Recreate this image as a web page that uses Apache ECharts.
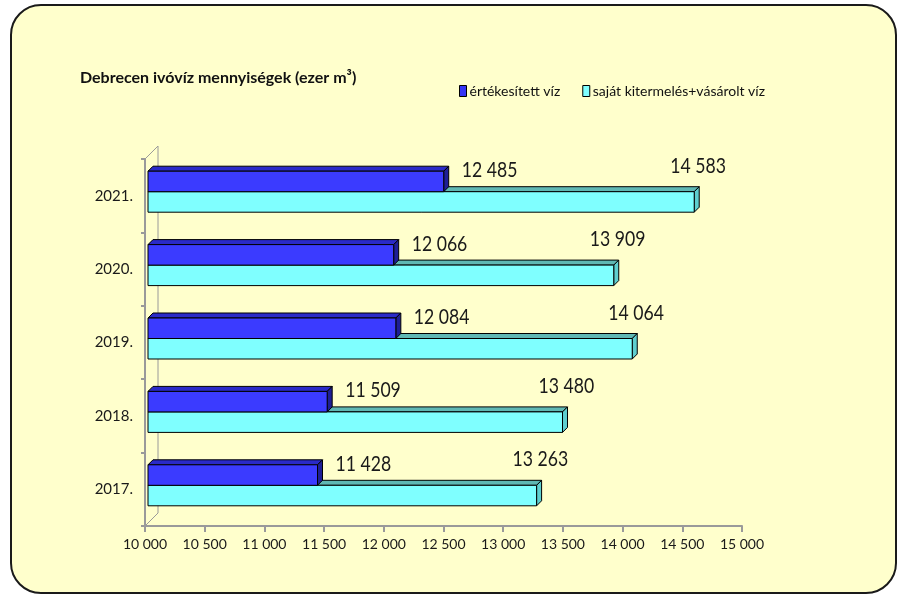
<!DOCTYPE html>
<html>
<head>
<meta charset="utf-8">
<script src="https://cdn.jsdelivr.net/npm/echarts@6/dist/echarts.min.js"></script>
<style>
  html, body { margin: 0; padding: 0; background: #ffffff; }
  #chart { width: 901px; height: 594px; }
</style>
</head>
<body>
<div id="chart"></div>
<script>
const categories = ['2017.', '2018.', '2019.', '2020.', '2021.']
const soldWater = [11428, 11509, 12084, 12066, 12485]
const producedWater = [13263, 13480, 14064, 13909, 14583]
const axisMin = 10000
const axisMax = 15000
const axisStep = 500

const SOLD_NAME = 'értékesített víz'
const PRODUCED_NAME = 'saját kitermelés+vásárolt víz'
const FONT = 'Lato, "Open Sans", sans-serif'

const GRID = { left: 145, right: 159, top: 159, bottom: 68 }
const DEPTH = 5
const BAR_H = 20.5

function fmt(v) {
  return String(v).replace(/\B(?=(\d{3})+(?!\d))/g, ' ')
}

// 3D-ish bar: front face, top face and right side face
function makeBar(api, upper, colors, labelDx, labelDy) {
  const cat = api.value(0)
  const val = api.value(1)
  const endPt = api.coord([val, cat])
  const startPt = api.coord([axisMin, cat])
  const c = endPt[1] - 4
  const x0 = startPt[0] + 3
  const x1 = endPt[0] + 2
  const y = upper ? c - BAR_H : c
  const h = BAR_H
  const d = DEPTH
  const line = { stroke: '#000', lineWidth: 1 }
  return {
    type: 'group',
    children: [
      {
        type: 'polygon',
        shape: { points: [[x0, y], [x0 + d, y - d], [x1 + d, y - d], [x1, y]] },
        style: Object.assign({ fill: colors.top }, line)
      },
      {
        type: 'polygon',
        shape: { points: [[x1, y], [x1 + d, y - d], [x1 + d, y + h - d], [x1, y + h]] },
        style: Object.assign({ fill: colors.side }, line)
      },
      {
        type: 'rect',
        shape: { x: x0, y: y, width: x1 - x0, height: h },
        style: Object.assign({ fill: colors.front }, line)
      },
      {
        // narrow the label a bit so it looks like the condensed original font
        type: 'text',
        z2: 10,
        x: x1 + labelDx,
        y: y + h / 2 + labelDy,
        scaleX: 0.84,
        style: {
          x: 0,
          y: 0,
          text: fmt(val),
          fill: '#1a1a1a',
          font: '21px ' + FONT,
          verticalAlign: 'middle',
          align: 'left'
        }
      }
    ]
  }
}

const chart = echarts.init(document.getElementById('chart'), null, { renderer: 'canvas' })

const pxLeft = GRID.left
const pxBottom = 594 - GRID.bottom
const pxTop = GRID.top
const wall = '#9a9a9a'

const option = {
  backgroundColor: '#ffffff',
  animation: false,
  graphic: [
    {
      type: 'rect',
      z: -10,
      shape: { x: 11, y: 5, width: 885, height: 588, r: 30 },
      style: { fill: '#FFFFCC', stroke: '#1a1a1a', lineWidth: 2 }
    },
    {
      type: 'polyline',
      z: -5,
      shape: { points: [[pxLeft, pxTop], [pxLeft + 13, pxTop - 13], [pxLeft + 13, pxBottom - 13], [pxLeft, pxBottom]] },
      style: { stroke: wall, lineWidth: 1, fill: null }
    },
    {
      type: 'text',
      left: 80,
      top: 70,
      style: {
        text: 'Debrecen ivóvíz mennyiségek (ezer m³)',
        font: 'bold 16px ' + FONT,
        fill: '#111'
      }
    }
  ],
  legend: {
    left: 454,
    top: 79,
    itemGap: 22,
    itemWidth: 7,
    itemHeight: 11,
    icon: 'rect',
    data: [
      { name: SOLD_NAME, itemStyle: { color: '#3535F5', borderColor: '#000', borderWidth: 1 } },
      { name: PRODUCED_NAME, itemStyle: { color: '#7FFFFF', borderColor: '#000', borderWidth: 1 } }
    ],
    textStyle: { fontFamily: FONT, fontSize: 14, color: '#111', padding: [0, 0, 0, -2] }
  },
  grid: { left: GRID.left, right: GRID.right, top: GRID.top, bottom: GRID.bottom, containLabel: false },
  xAxis: {
    type: 'value',
    min: axisMin,
    max: axisMax,
    interval: axisStep,
    axisLine: { show: true, lineStyle: { color: wall, width: 2 } },
    axisTick: { show: true, inside: false, length: 6, lineStyle: { color: wall, width: 2 } },
    splitLine: { show: false },
    axisLabel: {
      color: '#1a1a1a',
      fontFamily: FONT,
      fontSize: 14,
      margin: 11,
      formatter: fmt
    }
  },
  yAxis: {
    type: 'category',
    data: categories,
    axisLine: { show: true, lineStyle: { color: wall, width: 2 } },
    axisTick: { show: true, length: 4, lineStyle: { color: wall, width: 2 } },
    axisLabel: {
      color: '#1a1a1a',
      fontFamily: FONT,
      fontSize: 15,
      margin: 12
    }
  },
  series: [
    {
      name: PRODUCED_NAME,
      type: 'custom',
      z: 2,
      itemStyle: { color: '#7FFFFF' },
      encode: { x: 1, y: 0 },
      data: producedWater.map((v, i) => [i, v]),
      renderItem: (params, api) => makeBar(api, false,
        { front: '#7FFFFF', top: '#5FB8B4', side: '#5FCFCF' }, -24, -36)
    },
    {
      name: SOLD_NAME,
      type: 'custom',
      z: 3,
      itemStyle: { color: '#3535F5' },
      encode: { x: 1, y: 0 },
      data: soldWater.map((v, i) => [i, v]),
      renderItem: (params, api) => makeBar(api, true,
        { front: '#3B3BFF', top: '#2A2AC8', side: '#1E1E96' }, 18, -11)
    }
  ]
}

chart.setOption(option)
</script>
</body>
</html>
